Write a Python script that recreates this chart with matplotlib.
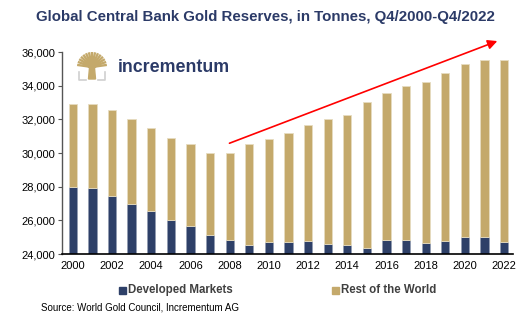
import matplotlib
matplotlib.use("Agg")
import matplotlib.pyplot as plt
from matplotlib.patches import Rectangle, Polygon
import numpy as np

plt.rcParams['font.family'] = ['Liberation Sans', 'DejaVu Sans']

years = list(range(2000, 2023))
tick_years = list(range(2000, 2023, 2))
total = [32900, 32900, 32550, 32000, 31470, 30890, 30520, 30000, 30000, 30520,
         30850, 31190, 31680, 32020, 32260, 33030, 33580, 33980, 34220, 34770,
         35270, 35530, 35510]
developed = [28000, 27900, 27460, 27000, 26570, 26040, 25680, 25130, 24850, 24550,
             24710, 24710, 24790, 24610, 24550, 24370, 24850, 24830, 24650, 24790,
             25010, 25010, 24700]
rest_of_world = [t - d for t, d in zip(total, developed)]
y_ticks = [24000, 26000, 28000, 30000, 32000, 34000, 36000]

NAVY = '#2E4068'
GOLD = '#C4A96B'
TITLE = '#2B3A67'

fig = plt.figure(figsize=(5.27, 3.29), dpi=100)
ax = fig.add_axes([62 / 527, 1 - 254 / 329, 451 / 527, 202 / 329])

x = np.arange(len(years))
ax.bar(x, developed, width=0.42, color=NAVY, edgecolor='#8f9ab0', linewidth=0.4)
ax.bar(x, rest_of_world, bottom=developed, width=0.42, color=GOLD,
       edgecolor='#e6dcc0', linewidth=0.6)

ax.set_ylim(24000, 36000)
ax.set_xlim(-0.55, 22.45)
ax.set_yticks(y_ticks)
ax.set_yticklabels([f'{v:,}' for v in y_ticks], fontsize=8)
ax.set_xticks([years.index(y) for y in tick_years])
ax.set_xticklabels([str(y) for y in tick_years], fontsize=8)
ax.tick_params(axis='y', length=3, width=0.8, color='#555555', pad=2)
ax.tick_params(axis='x', length=0, pad=5)
for s in ['top', 'right']:
    ax.spines[s].set_visible(False)
ax.spines['left'].set_color('#555555')
ax.spines['left'].set_linewidth(1.0)
ax.spines['bottom'].set_color('#000000')
ax.spines['bottom'].set_linewidth(1.2)

# Trend arrow
ax.annotate('', xy=(21.65, 36650), xytext=(7.99, 30580),
            arrowprops=dict(arrowstyle='-|>', color='#FF0000', lw=1.2,
                            mutation_scale=14, shrinkA=0, shrinkB=0),
            annotation_clip=False)

# Title
fig.text(265 / 527, 1 - 17 / 329,
         'Global Central Bank Gold Reserves, in Tonnes, Q4/2000-Q4/2022',
         ha='center', va='center', fontsize=10.8, fontweight='bold', color=TITLE)


def px(xp, yp):
    return (xp / 527, 1 - yp / 329)


# Logo: stylised tree and wordmark
trunk = Polygon([px(88.5, 79), px(95.5, 79), px(94.5, 68), px(101, 62), px(92, 65),
                 px(83, 62), px(89.5, 68)], closed=True, transform=fig.transFigure,
                color=GOLD)
fig.patches.append(trunk)
x0, y0 = 92, 67
for ang in np.linspace(172, 8, 15):
    r = 15
    x1 = x0 + r * np.cos(np.radians(ang))
    y1 = y0 - r * np.sin(np.radians(ang)) * 1.0
    fig.lines.append(plt.Line2D([x0 / 527, x1 / 527], [1 - y0 / 329, 1 - y1 / 329],
                                transform=fig.transFigure, color=GOLD, lw=1.7,
                                solid_capstyle='butt'))
fig.lines.append(plt.Line2D([79 / 527, 79 / 527, 86 / 527],
                            [1 - 72 / 329, 1 - 80 / 329, 1 - 80 / 329],
                            transform=fig.transFigure, color='#d0d0d0', lw=1.2))
fig.lines.append(plt.Line2D([98 / 527, 105 / 527, 105 / 527],
                            [1 - 80 / 329, 1 - 80 / 329, 1 - 72 / 329],
                            transform=fig.transFigure, color='#d0d0d0', lw=1.2))
fig.text(118 / 527, 1 - 67 / 329, 'incrementum', ha='left', va='center',
         fontsize=12.8, fontweight='bold', color=TITLE, family=['Liberation Sans'])

# Legend
fig.patches.append(Rectangle(px(119, 294), 7 / 527, 7 / 329, transform=fig.transFigure,
                             color=NAVY))
fig.text(128 / 527, 1 - 290 / 329, 'Developed Markets', ha='left', va='center',
         fontsize=8.3, fontweight='bold', color='#404040')
fig.patches.append(Rectangle(px(332, 294), 7 / 527, 7 / 329, transform=fig.transFigure,
                             color=GOLD))
fig.text(341 / 527, 1 - 290 / 329, 'Rest of the World', ha='left', va='center',
         fontsize=8.3, fontweight='bold', color='#404040')

fig.text(41 / 527, 1 - 307 / 329, 'Source: World Gold Council, Incrementum AG',
         ha='left', va='center', fontsize=7, color='#000000')

fig.savefig('out.png', dpi=100)
